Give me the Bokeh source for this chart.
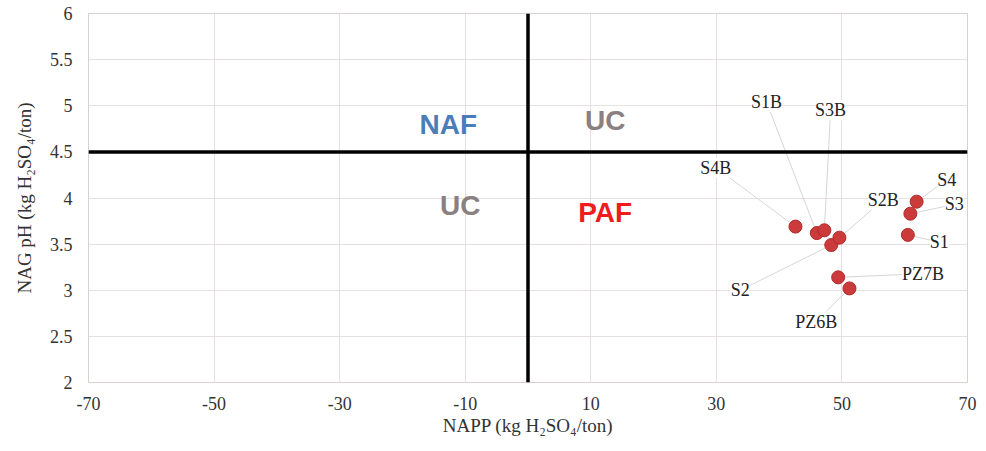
from bokeh.plotting import figure
from bokeh.models import FixedTicker, Span, ColumnDataSource, LabelSet, Label
from bokeh.embed import file_html
from bokeh.resources import INLINE

# Data
sample_names = ["S4B", "S1B", "S3B", "S2", "S2B", "PZ7B", "PZ6B", "S4", "S3", "S1"]
napp = [42.6, 46.0, 47.2, 48.3, 49.6, 49.4, 51.2, 61.9, 60.9, 60.5]
nag_ph = [3.69, 3.62, 3.65, 3.49, 3.57, 3.14, 3.02, 3.96, 3.83, 3.60]

x_ticks = [-70, -50, -30, -10, 10, 30, 50, 70]
y_ticks = [2, 2.5, 3, 3.5, 4, 4.5, 5, 5.5, 6]

# label offsets (data units) for annotation text
label_dx = [-12.7, -8.0, 1.0, -14.5, 7.0, 13.5, -5.3, 4.8, 7.0, 5.0]
label_dy = [0.64, 1.42, 1.30, -0.49, 0.41, 0.04, -0.36, 0.24, 0.10, -0.08]

quad_text = ["NAF", "UC", "UC", "PAF"]
quad_x = [-12.7, 12.3, -10.8, 12.3]
quad_y = [4.80, 4.84, 3.92, 3.84]
quad_col = ["#4a7ebb", "#8a8080", "#8a8080", "#ee1c1c"]

p = figure(width=986, height=451, output_backend="svg", toolbar_location=None,
           x_range=(-70, 70), y_range=(2, 6),
           min_border_left=88, min_border_right=19, min_border_top=13, min_border_bottom=69)

p.background_fill_color = "white"
p.outline_line_color = "#d9d0d0"
p.outline_line_width = 1

for ax in (p.xaxis[0], p.yaxis[0]):
    ax.axis_line_color = None
    ax.major_tick_line_color = None
    ax.minor_tick_line_color = None
    ax.major_label_text_font = "Liberation Serif"
    ax.major_label_text_font_size = "18px"
    ax.major_label_text_color = "#333333"
    ax.axis_label_text_font = "Liberation Serif"
    ax.axis_label_text_font_size = "19px"
    ax.axis_label_text_font_style = "normal"
    ax.axis_label_text_color = "#333333"

p.xaxis.ticker = FixedTicker(ticks=x_ticks)
p.yaxis.ticker = FixedTicker(ticks=y_ticks)
p.xaxis.major_label_overrides = {t: str(t) for t in x_ticks}
p.yaxis.major_label_overrides = {t: (str(int(t)) if float(t).is_integer() else str(t)) for t in y_ticks}
p.xaxis.axis_label = "NAPP (kg H\u2082SO\u2084/ton)"
p.yaxis.axis_label = "NAG pH (kg H\u2082SO\u2084/ton)"
p.xaxis.major_label_standoff = 8
p.yaxis.major_label_standoff = 10
p.xaxis.axis_label_standoff = 2
p.yaxis.axis_label_standoff = 12

p.xgrid.ticker = FixedTicker(ticks=x_ticks)
p.ygrid.ticker = FixedTicker(ticks=y_ticks)
p.grid.grid_line_color = "#e6e0e0"
p.grid.grid_line_width = 1

# quadrant lines
p.add_layout(Span(location=4.5, dimension="width", line_color="black", line_width=3.5))
p.add_layout(Span(location=0, dimension="height", line_color="black", line_width=3.5))

# leader lines
lx = [x + dx for x, dx in zip(napp, label_dx)]
ly = [y + dy for y, dy in zip(nag_ph, label_dy)]
p.segment(x0=napp, y0=nag_ph, x1=lx, y1=ly, line_color="#d6d6d6", line_width=1)

# points
p.scatter(napp, nag_ph, size=13, fill_color="#cc3b3b", line_color="#b02a2a", line_width=1)

# sample labels
src = ColumnDataSource(dict(x=lx, y=ly, t=sample_names))
p.add_layout(LabelSet(x="x", y="y", text="t", source=src, text_font="Liberation Serif",
                      text_font_size="18px", text_color="#222222",
                      text_align="center", text_baseline="middle",
                      background_fill_color="white"))

for t, x, y, c in zip(quad_text, quad_x, quad_y, quad_col):
    p.add_layout(Label(x=x, y=y, text=t, text_font="Liberation Sans", text_font_style="bold",
                       text_font_size="28px", text_color=c, text_align="center",
                       text_baseline="middle"))

open("out.html", "w").write(file_html(p, INLINE))
